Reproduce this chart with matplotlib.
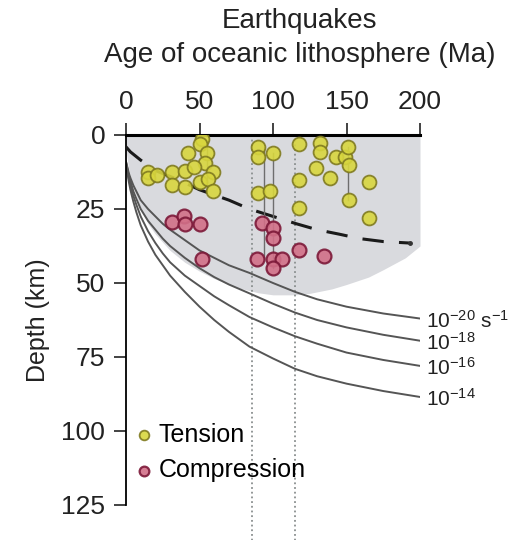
import matplotlib
matplotlib.use("Agg")
import matplotlib.pyplot as plt
import numpy as np

plt.rcParams['font.family'] = ['Liberation Sans', 'DejaVu Sans']
plt.rcParams['mathtext.fontset'] = 'custom'
plt.rcParams['mathtext.rm'] = 'Liberation Sans'
plt.rcParams['mathtext.default'] = 'regular'

# tension earthquakes (age Ma, depth km)
tension_age = [52, 50, 42, 55, 54, 15, 15, 21, 31, 40, 46, 59, 31, 40, 50, 56, 59,
               90, 90, 100, 90, 98, 118, 118, 118, 132, 132, 129, 139, 143, 149,
               151, 152, 165, 152, 165]
tension_depth = [1.5, 3, 6, 6, 9.5, 12.5, 14.5, 13.5, 12.5, 12, 10.8, 12.5, 17, 17.5,
                 16, 15, 19, 4, 7.3, 6, 19.6, 19, 3, 15.2, 24.8, 2.7, 5.6, 11, 14.6,
                 7.3, 7.3, 4, 10, 16, 22, 28]

# compression earthquakes
comp_age = [31, 39.5, 40, 50, 52, 92.5, 100, 100, 89, 100, 106, 100, 118, 135]
comp_depth = [29.5, 27.5, 30, 30, 42, 29.8, 31.4, 34.8, 42, 42, 42, 45, 38.8, 41]

# vertical ranges linking events (age, top, bottom)
link_age = [55, 94, 100, 151]
link_top = [2, 4, 6, 4]
link_bot = [19, 42, 45, 22]

# dotted reference ages
dotted_age = [86, 115]

# shaded seismogenic region lower edge
shade_age = [0, 2, 5, 10, 15, 20, 30, 40, 50, 60, 75, 90, 100, 115, 125, 140,
             150, 165, 175, 190, 200]
shade_depth = [5, 12, 18, 25, 30, 33.5, 39, 43, 46, 48.5, 51.5, 53.3, 54, 54,
               53.5, 52, 50.5, 48, 45.5, 41.5, 37.5]

# dashed line
dash_age = [0, 3, 10, 20, 35, 50, 70, 84, 100, 116, 130, 145, 159, 175, 193]
dash_depth = [4, 5.7, 8.5, 12, 15, 18.5, 22, 25, 27.5, 30, 32, 33.5, 35, 36, 36.5]

# strain-rate curves
curve_age = [0, 1, 2, 3, 5, 7, 10, 15, 20, 25, 30, 40, 50, 60, 70, 84, 100, 115,
             130, 150, 175, 200]
curve_labels = ['$10^{-20}$ s$^{-1}$', '$10^{-18}$', '$10^{-16}$', '$10^{-14}$']
curve_m20 = [9, 11, 13, 14.5, 17, 19, 22, 25, 27.5, 30, 32, 35.5, 39, 41.5, 44,
             46.6, 50, 53, 55.5, 58, 60.3, 62]
curve_m18 = [9, 11.5, 14, 15.5, 19, 21.5, 25, 29, 32, 35, 37.5, 41.5, 45, 48,
             50.5, 53.5, 57, 60, 62.5, 65, 67.5, 69.5]
curve_m16 = [9.5, 12, 15, 17, 20.5, 23.5, 27.5, 32.5, 36.5, 40, 43, 47.5, 51,
             54.5, 57.5, 61.5, 65, 68, 70.5, 73.5, 76, 78]
curve_m14 = [10, 13, 16, 18.5, 22.5, 26, 30.5, 36, 40.5, 44, 47.5, 53, 58, 62.5,
             66.5, 71.5, 75.5, 79, 81.5, 84, 86.5, 88.5]

fig = plt.figure(figsize=(5.21, 5.40), dpi=100)
ax = fig.add_axes([126/521, 35/540, 294/521, 370/540])

ax.fill_between(shade_age, 0, shade_depth, color='#d9dade', lw=0, zorder=0)

for a in dotted_age:
    ax.plot([a, a], [0, 137], color='#8a8f8f', lw=1.3, ls=(0, (1, 1.6)),
            clip_on=False, zorder=1)

for lab, d in zip(curve_labels, [curve_m20, curve_m18, curve_m16, curve_m14]):
    ax.plot(curve_age, d, color='#555555', lw=1.4, zorder=2)
    ax.text(204, d[-1] + 0.8, lab, fontsize=15, va='center', ha='left',
            color='#222222', clip_on=False)

ax.plot(dash_age, dash_depth, color='#1a1a1a', lw=2.2, ls=(0, (7, 5)), zorder=3)
ax.plot([dash_age[-1]], [dash_depth[-1]], 'o', color='#333333', ms=2.5, zorder=3)

for a, t, b in zip(link_age, link_top, link_bot):
    ax.plot([a, a], [t, b], color='#6e6e6e', lw=1, zorder=3)

ax.scatter(tension_age, tension_depth, s=100, c='#d8d63e', edgecolors='#7f7a20',
           linewidths=1.3, alpha=0.9, zorder=4, label='Tension')
ax.scatter(comp_age, comp_depth, s=100, c='#d27088', edgecolors='#7c1838',
           linewidths=1.6, alpha=0.9, zorder=4, label='Compression')

ax.set_xlim(0, 200)
ax.set_ylim(125, 0)
ax.xaxis.tick_top()
ax.set_xticks([0, 50, 100, 150, 200])
ax.set_yticks([0, 25, 50, 75, 100, 125])
ax.tick_params(axis='both', direction='out', length=9, width=1.2, labelsize=19,
               colors='#222222', pad=6)
ax.spines['right'].set_visible(False)
ax.spines['bottom'].set_visible(False)
ax.spines['top'].set_linewidth(2.2)
ax.spines['left'].set_linewidth(1.3)
ax.patch.set_alpha(0)

ax.set_ylabel('Depth (km)', fontsize=18, color='#222222', labelpad=8)

fig.text(300/521, 1 - 21/540, 'Earthquakes', fontsize=20, ha='center',
         va='center', color='#222222')
fig.text(300/521, 1 - 55/540, 'Age of oceanic lithosphere (Ma)', fontsize=20,
         ha='center', va='center', color='#222222')

ax.legend(loc='upper left', bbox_to_anchor=(0.035, 0.222), frameon=False,
          fontsize=18, markerscale=0.7, handlelength=0.6, handletextpad=0.3,
          borderaxespad=0, borderpad=0, labelspacing=0.45)

fig.savefig('out.png', dpi=100)
